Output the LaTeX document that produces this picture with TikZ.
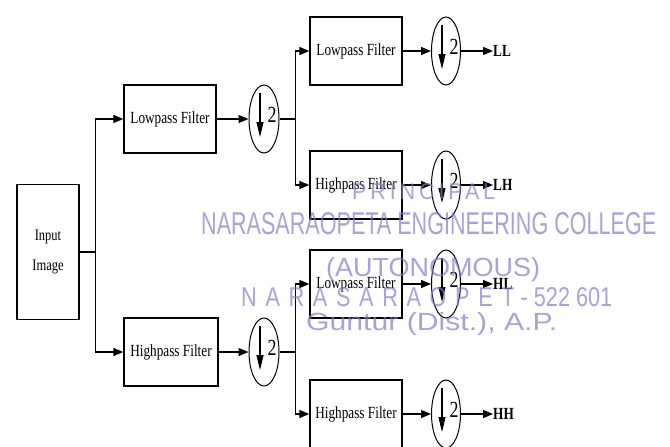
\documentclass[tikz,border=0pt]{standalone}
\usepackage{fontspec}
\usepackage{graphicx}
\usetikzlibrary{arrows.meta,shapes.geometric,positioning}
\newfontfamily\filtfont[FakeStretch=0.78]{Liberation Serif}
\newfontfamily\stampfont{Liberation Sans}
\definecolor{stampink}{RGB}{132,122,198}

\tikzset{
  filt/.style={draw, line width=1.3pt, minimum width=92pt, minimum height=68pt, inner sep=0pt,
               font=\filtfont\fontsize{17}{20}\selectfont},
  dsamp/.style={draw, ellipse, line width=1pt, minimum width=30pt, minimum height=68pt, inner sep=0pt},
  conn/.style={line width=1.2pt, -{Triangle[length=10pt,width=8pt]}},
  outlab/.style={anchor=west, inner sep=0pt, font=\filtfont\bfseries\fontsize{17}{20}\selectfont},
  stamp/.style={anchor=base west, inner sep=0pt, text=stampink, opacity=0.7, font=\stampfont},
}

\begin{document}
\begin{tikzpicture}[x=1pt, y=-1pt]
  \useasboundingbox (0,0) rectangle (670,447);
  % first level
  \node[filt, minimum width=62pt, minimum height=135pt, align=center,
        font=\filtfont\fontsize{16}{30}\selectfont] (inp) at (48,252) {Input\\Image};
  \node[filt] (lo) at (170,119) {Lowpass Filter};
  \node[filt, minimum width=94pt] (hi) at (171,352) {Highpass Filter};
  \node[dsamp] (dlo) at (264,119) {};
  \node[dsamp] (dhi) at (264,352) {};
  \draw[line width=1.2pt] (inp.east) -- ++(16,0) coordinate (fork);
  \draw[conn] (fork) |- (lo);
  \draw[conn] (fork) |- (hi);
  \draw[conn] (lo) -- (dlo);
  \draw[conn] (hi) -- (dhi);
  \draw[line width=1.2pt] (dlo.east) -- ++(16,0) coordinate (fdlo);
  \draw[line width=1.2pt] (dhi.east) -- ++(16,0) coordinate (fdhi);
  % second level
  \foreach \nm/\y/\txt/\src/\lab in {ll/51/Lowpass Filter/fdlo/LL, lh/185/Highpass Filter/fdlo/LH,
                                     hl/284/Lowpass Filter/fdhi/HL, hh/414/Highpass Filter/fdhi/HH}{
    \node[filt] (\nm) at (356,\y) {\txt};
    \node[dsamp, minimum width=29pt] (d\nm) at (446,\y) {};
    \node[outlab] (o\nm) at (493,\y) {\lab};
    \draw[conn] (\src) |- (\nm);
    \draw[conn] (\nm) -- (d\nm);
    \draw[conn] (d\nm) -- (o\nm);
  }
  % the down-by-two marks
  \foreach \ds in {dlo,dhi,dll,dlh,dhl,dhh}{
    \draw[line width=1.1pt, -{Triangle[length=15pt,width=7pt]}]
      ([shift={(-4,-26)}]\ds.center) -- ([shift={(-4,18)}]\ds.center);
    \node[inner sep=0pt, font=\filtfont\fontsize{23}{23}\selectfont] (t\ds) at ([shift={(8,-4)}]\ds.center) {2};
  }
  % stamp over the figure
  \node[stamp] (st1) at (352,199) {\resizebox{143pt}{16pt}{\addfontfeature{LetterSpace=18}PRINCIPAL}};
  \node[stamp] (st2) at (201,234) {\resizebox{455pt}{22pt}{NARASARAOPETA ENGINEERING COLLEGE}};
  \node[stamp] (st3) at (326,276) {\resizebox{214pt}{19pt}{(AUTONOMOUS)}};
  \node[stamp] (st4) at (241,306) {\resizebox{371pt}{19pt}{{\addfontfeature{LetterSpace=40}NARASARAOPET} - 522 601}};
  \node[stamp] (st5) at (306,330) {\resizebox{251pt}{18pt}{Guntur (Dist.), A.P.}};
\end{tikzpicture}
\end{document}
